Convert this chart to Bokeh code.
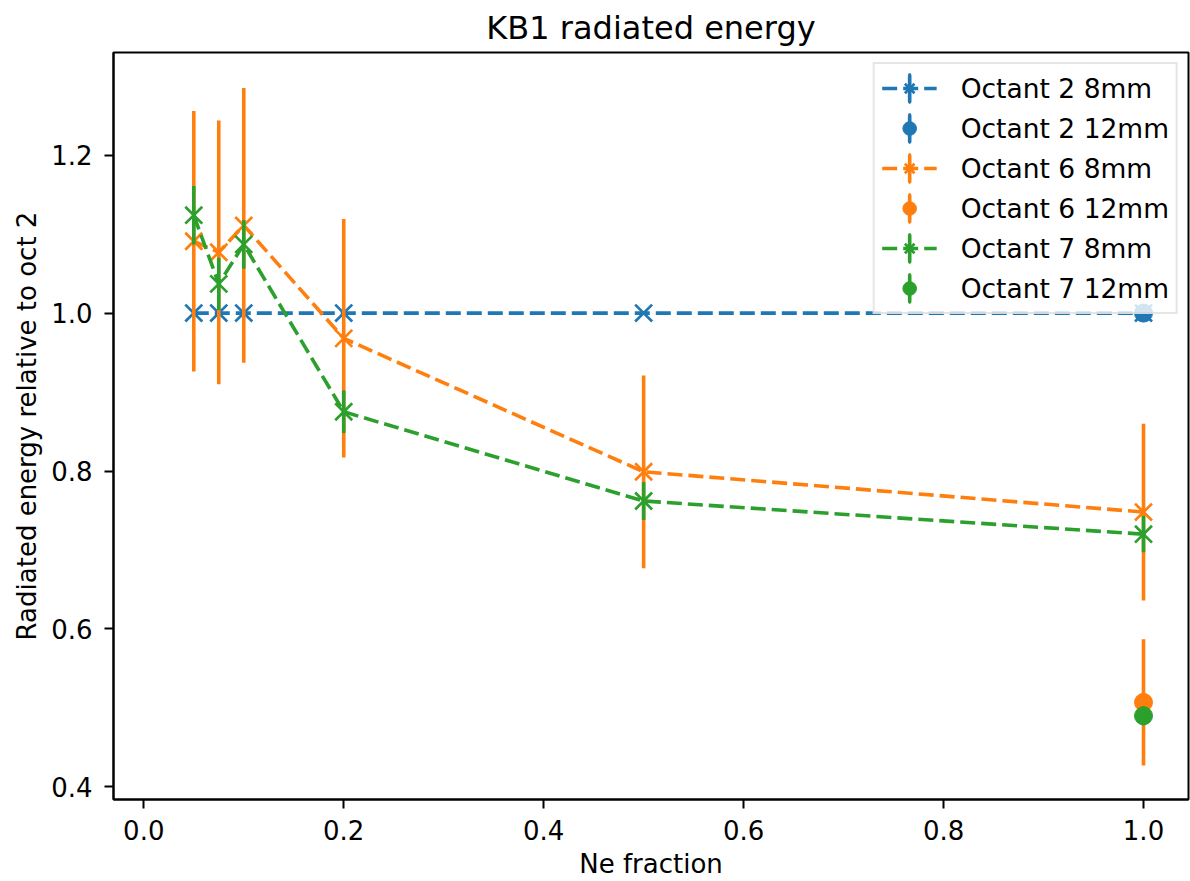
from bokeh.plotting import figure
from bokeh.models import ColumnDataSource, FixedTicker, PrintfTickFormatter, Range1d
from bokeh.embed import file_html
from bokeh.resources import INLINE

# ---- data ----
ne_fraction = [0.05, 0.075, 0.1, 0.2, 0.5, 1.0]
ne_fraction_12 = [1.0]

oct2_8mm = [1.0, 1.0, 1.0, 1.0, 1.0, 1.0]
oct2_8mm_err = [0.0, 0.0, 0.0, 0.0, 0.0, 0.0]
oct2_12mm = [1.0]
oct2_12mm_err = [0.005]

oct6_8mm = [1.091, 1.077, 1.111, 0.968, 0.799, 0.748]
oct6_8mm_err = [0.165, 0.167, 0.174, 0.151, 0.122, 0.112]
oct6_12mm = [0.507]
oct6_12mm_err = [0.080]

oct7_8mm = [1.124, 1.037, 1.087, 0.875, 0.762, 0.720]
oct7_8mm_err = [0.037, 0.033, 0.031, 0.027, 0.024, 0.023]
oct7_12mm = [0.490]
oct7_12mm_err = [0.012]

x_ticks = [0.0, 0.2, 0.4, 0.6, 0.8, 1.0]
y_ticks = [0.4, 0.6, 0.8, 1.0, 1.2]

BLUE, ORANGE, GREEN = "#1f77b4", "#ff7f0e", "#2ca02c"
FONT = "DejaVu Sans"

p = figure(width=1190, height=881, output_backend="svg", toolbar_location=None,
           x_range=Range1d(-0.0303, 1.045), y_range=Range1d(0.384, 1.33),
           min_border_left=113, min_border_right=2, min_border_top=49, min_border_bottom=81,
           title="KB1 radiated energy")
p.background_fill_color = "white"
p.border_fill_color = "white"
p.grid.visible = False
p.outline_line_color = "black"
p.outline_line_width = 2

p.title.text_font = FONT
p.title.text_font_size = "32px"
p.title.text_font_style = "normal"
p.title.text_color = "black"
p.title.align = "center"
p.title.standoff = 12

for ax in (p.xaxis[0], p.yaxis[0]):
    ax.axis_line_width = 2
    ax.major_tick_line_width = 2
    ax.major_tick_out = 9
    ax.major_tick_in = 0
    ax.minor_tick_line_color = None
    ax.major_label_text_font = FONT
    ax.major_label_text_font_size = "26px"
    ax.major_label_text_color = "black"
    ax.axis_label_text_font = FONT
    ax.axis_label_text_font_size = "26px"
    ax.axis_label_text_font_style = "normal"
    ax.axis_label_text_color = "black"
    ax.formatter = PrintfTickFormatter(format="%.1f")

p.xaxis[0].ticker = FixedTicker(ticks=x_ticks)
p.yaxis[0].ticker = FixedTicker(ticks=y_ticks)
p.xaxis[0].axis_label = "Ne fraction"
p.yaxis[0].axis_label = "Radiated energy relative to oct 2"
p.xaxis[0].major_label_standoff = 11
p.xaxis[0].axis_label_standoff = 6
p.yaxis[0].major_label_standoff = 12
p.yaxis[0].axis_label_standoff = 6

LW = 3.6


def legend_bar(src, color, label):
    # a needle-thin ellipse: drawn hidden under the marker on the plot,
    # it gives the vertical error-bar stroke in the legend entry
    p.ellipse("x", "y", source=src, width=0.001, width_units="screen",
              height=0.0005, fill_color=None, line_color=color, line_width=LW,
              legend_label=label)


def series_8mm(x, y, err, color, label):
    src = ColumnDataSource(dict(x=x, y=y, lo=[a - b for a, b in zip(y, err)],
                                hi=[a + b for a, b in zip(y, err)]))
    p.line("x", "y", source=src, line_color=color, line_width=LW, line_dash="15 6",
           legend_label=label)
    legend_bar(src, color, label)
    p.scatter("x", "y", source=src, marker="x", size=24, line_color=color,
              line_width=2.7, legend_label=label)
    p.segment("x", "lo", "x", "hi", source=src, line_color=color, line_width=LW)


def series_12mm(x, y, err, color, label):
    src = ColumnDataSource(dict(x=x, y=y, lo=[a - b for a, b in zip(y, err)],
                                hi=[a + b for a, b in zip(y, err)]))
    p.segment("x", "lo", "x", "hi", source=src, line_color=color, line_width=LW)
    legend_bar(src, color, label)
    p.scatter("x", "y", source=src, marker="circle", size=18, fill_color=color,
              line_color=color, legend_label=label)


series_8mm(ne_fraction, oct2_8mm, oct2_8mm_err, BLUE, "Octant 2 8mm")
series_12mm(ne_fraction_12, oct2_12mm, oct2_12mm_err, BLUE, "Octant 2 12mm")
series_8mm(ne_fraction, oct6_8mm, oct6_8mm_err, ORANGE, "Octant 6 8mm")
series_12mm(ne_fraction_12, oct6_12mm, oct6_12mm_err, ORANGE, "Octant 6 12mm")
series_8mm(ne_fraction, oct7_8mm, oct7_8mm_err, GREEN, "Octant 7 8mm")
series_12mm(ne_fraction_12, oct7_12mm, oct7_12mm_err, GREEN, "Octant 7 12mm")

lg = p.legend[0]
lg.location = "top_right"
lg.margin = 10
lg.padding = 7
lg.spacing = 6
lg.glyph_width = 55
lg.glyph_height = 34
lg.label_height = 34
lg.label_standoff = 24
lg.label_text_font = FONT
lg.label_text_font_size = "26.5px"
lg.label_text_color = "black"
lg.border_line_color = "#cccccc"
lg.border_line_width = 2
lg.background_fill_color = "white"
lg.background_fill_alpha = 0.8

open("out.html", "w").write(file_html(p, INLINE))
